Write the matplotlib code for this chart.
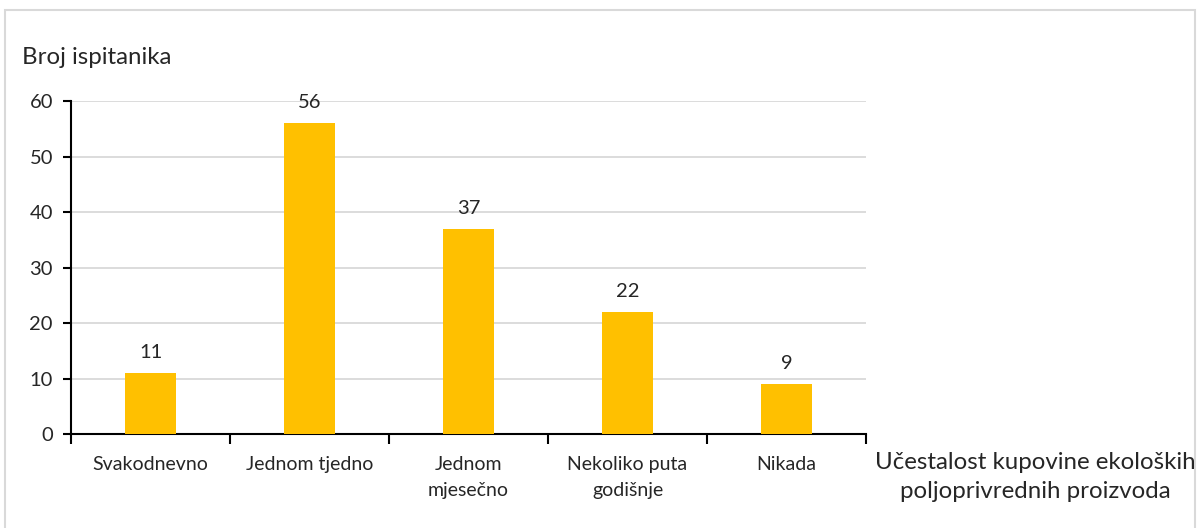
import matplotlib
matplotlib.use("Agg")
import matplotlib.pyplot as plt
from matplotlib.patches import Rectangle

# data
categories = ["Svakodnevno", "Jednom tjedno", "Jednom\nmjesečno", "Nekoliko puta\ngodišnje", "Nikada"]
counts = [11, 56, 37, 22, 9]
y_ticks = [0, 10, 20, 30, 40, 50, 60]

plt.rcParams['font.family'] = ['Lato', 'DejaVu Sans']
TXT = "#262626"

fig = plt.figure(figsize=(12, 5.28), dpi=100)
ax = fig.add_axes([0.0592, 0.178, 0.6625, 0.6307])

x = list(range(len(categories)))
ax.bar(x, counts, width=0.315, color="#FFC000", zorder=3)

for xi, v in zip(x, counts):
    ax.annotate(str(v), (xi, v), xytext=(0, 8.5), textcoords="offset points",
                ha="center", va="bottom", fontsize=14.5, color=TXT)

ax.set_xlim(-0.5, len(categories) - 0.5)
ax.set_ylim(0, 60)
ax.set_yticks(y_ticks)
ax.yaxis.grid(True, color="#D9D9D9", linewidth=1.3, zorder=0)
ax.set_axisbelow(True)

# category labels at centres, tick marks at boundaries
ax.set_xticks(x)
ax.set_xticklabels(categories, fontsize=14, color=TXT, linespacing=1.6)
ax.tick_params(axis="x", length=0, pad=16)
ax.set_xticks([i - 0.5 for i in range(len(categories) + 1)], minor=True)
ax.tick_params(axis="x", which="minor", length=7, width=1.5, direction="out", color="black")
ax.tick_params(axis="y", length=6, width=1.5, labelsize=14.5, labelcolor=TXT, pad=7)

for s in ["top", "right"]:
    ax.spines[s].set_visible(False)
ax.spines["left"].set_linewidth(1.5)
ax.spines["bottom"].set_linewidth(1.5)

fig.text(22 / 1200, 1 - 57 / 528, "Broj ispitanika", fontsize=17.3, color=TXT,
         ha="left", va="center")
fig.text(1035 / 1200, 1 - 477 / 528, "Učestalost kupovine ekoloških\npoljoprivrednih proizvoda",
         fontsize=17.3, color=TXT, ha="center", va="center", linespacing=1.5)

fig.patches.append(Rectangle((5 / 1200, -0.01), 1190 / 1200, 1 - 10 / 528 + 0.01,
                             transform=fig.transFigure, fill=False,
                             edgecolor="#D9D9D9", linewidth=1.5))

fig.savefig("out.png", dpi=100)
